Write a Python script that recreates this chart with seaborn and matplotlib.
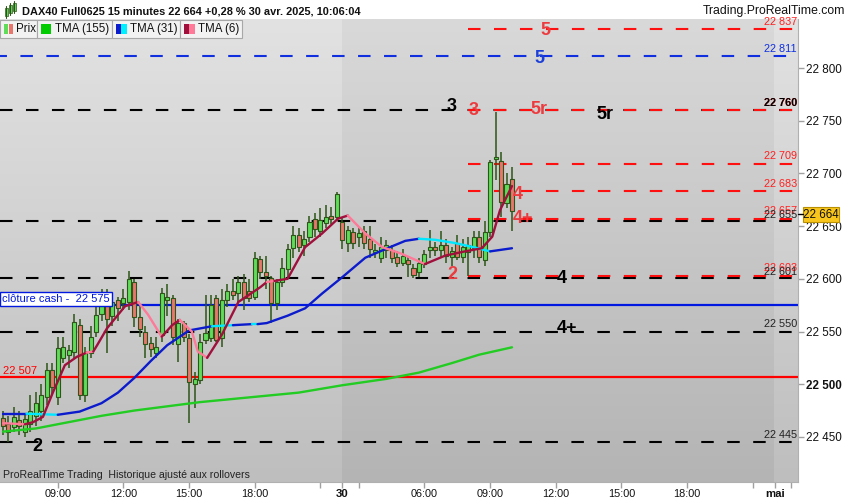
import numpy as np
import matplotlib
matplotlib.use("Agg")
import matplotlib.pyplot as plt
import seaborn as sns
from matplotlib.patches import Rectangle
from matplotlib.colors import LinearSegmentedColormap

sns.set_style("white")
plt.rcParams['font.family'] = ['Liberation Sans', 'DejaVu Sans']
plt.rcParams['lines.scale_dashes'] = False

# ---------------- data ----------------
opens = [22468, 22462, 22459, 22466, 22455, 22462, 22470, 22475, 22488, 22513,
         22488, 22525, 22528, 22531, 22556, 22490, 22530, 22550, 22567, 22580,
         22565, 22580, 22577, 22578, 22597, 22564, 22550, 22539, 22530, 22547,
         22580, 22582, 22538, 22558, 22544, 22500, 22504, 22542, 22544, 22582,
         22544, 22580, 22588, 22587, 22597, 22588, 22583, 22619, 22606, 22601,
         22577, 22597, 22609, 22629, 22642, 22632, 22640, 22657, 22645, 22653,
         22660, 22659,
         22654, 22634, 22644, 22640, 22645, 22638, 22625, 22620, 22627, 22627,
         22621, 22615, 22618, 22610, 22606, 22614, 22627, 22630, 22627, 22632,
         22621, 22634, 22621, 22625, 22629, 22640, 22618, 22644, 22714, 22712,
         22672, 22695]
highs = [22475, 22470, 22478, 22475, 22472, 22490, 22493, 22500, 22520, 22520,
         22545, 22545, 22537, 22567, 22562, 22535, 22555, 22578, 22590, 22590,
         22585, 22583, 22590, 22607, 22600, 22575, 22555, 22545, 22545, 22591,
         22595, 22585, 22562, 22560, 22548, 22512, 22548, 22585, 22585, 22585,
         22590, 22595, 22600, 22603, 22605, 22600, 22625, 22622, 22622, 22603,
         22600, 22620, 22633, 22650, 22648, 22645, 22660, 22662, 22667, 22670,
         22668, 22682,
         22659, 22650, 22648, 22648, 22650, 22650, 22633, 22640, 22637, 22632,
         22626, 22628, 22622, 22614, 22620, 22627, 22646, 22635, 22645, 22638,
         22630, 22642, 22638, 22640, 22645, 22645, 22655, 22713, 22758, 22720,
         22700, 22706]
lows = [22452, 22445, 22455, 22452, 22450, 22455, 22460, 22465, 22480, 22490,
        22480, 22520, 22515, 22525, 22485, 22483, 22525, 22545, 22560, 22530,
        22555, 22560, 22570, 22570, 22554, 22545, 22525, 22526, 22525, 22540,
        22565, 22537, 22521, 22540, 22463, 22477, 22500, 22538, 22540, 22540,
        22535, 22573, 22580, 22577, 22570, 22578, 22580, 22600, 22590, 22558,
        22570, 22592, 22602, 22620, 22625, 22622, 22635, 22640, 22640, 22648,
        22652, 22655,
        22628, 22625, 22628, 22630, 22628, 22620, 22620, 22615, 22620, 22615,
        22611, 22612, 22602, 22601, 22602, 22610, 22620, 22622, 22620, 22615,
        22612, 22618, 22615, 22603, 22620, 22615, 22612, 22640, 22694, 22659,
        22667, 22645]
closes = [22460, 22455, 22469, 22460, 22467, 22475, 22482, 22490, 22513, 22497,
          22534, 22535, 22532, 22559, 22490, 22530, 22545, 22566, 22580, 22562,
          22578, 22572, 22582, 22600, 22564, 22552, 22538, 22533, 22535, 22587,
          22583, 22545, 22558, 22545, 22502, 22505, 22540, 22549, 22575, 22542,
          22580, 22588, 22585, 22597, 22582, 22582, 22620, 22606, 22603, 22577,
          22597, 22610, 22628, 22642, 22630, 22638, 22654, 22647, 22656, 22659,
          22657, 22680,
          22637, 22646, 22634, 22643, 22634, 22628, 22627, 22630, 22632, 22620,
          22615, 22622, 22614, 22604, 22615, 22624, 22630, 22627, 22632, 22622,
          22626, 22621, 22630, 22632, 22640, 22621, 22644, 22711, 22715, 22673,
          22690, 22664]

# moving averages (bar index, value, direction)
tma155_x = [0, 6, 12, 18, 24, 30, 36, 42, 48, 54, 62, 70, 76, 82, 87, 93]
tma155_y = [22455, 22458, 22464, 22470, 22475, 22479, 22483, 22486, 22489, 22492,
            22499, 22505, 22511, 22520, 22528, 22535]

tma31_x = [0, 4.3, 10, 14, 18, 21, 24, 27, 30, 34, 38.2, 42, 45.5, 46.5, 48.2, 52,
           55.2, 58.3, 62.1, 66.2, 70.7, 73.5, 76, 79, 82.5, 86, 89, 93]
tma31_y = [22472, 22472, 22471, 22474, 22482, 22492, 22506, 22522, 22537, 22551,
           22555, 22556, 22557, 22557, 22558, 22565, 22572, 22586, 22602, 22620,
           22630, 22636, 22638, 22637, 22634, 22630, 22626, 22629]
tma31_dir = ['up', 'flat', 'up', 'up', 'up', 'up', 'up', 'up', 'up', 'up',
             'flat', 'up', 'flat', 'up', 'up', 'up', 'up', 'up', 'up', 'up',
             'up', 'up', 'flat', 'flat', 'flat', 'flat', 'up']

tma6_x = [0, 4, 5.5, 7.3, 9.1, 11.3, 13.5, 15.3, 16.5, 17.2, 19, 22.3, 24.7, 26.5,
          29, 30.9, 32.3, 34.5, 35.6, 37.3, 40, 43, 47, 48.2, 49.6, 52, 55.2, 58.3,
          61.2, 63, 66.2, 69.3, 72.7, 77.1, 80.8, 84.4, 87.5, 89.4, 90.8, 93]
tma6_y = [22463, 22462, 22464, 22469, 22492, 22518, 22526, 22530, 22531, 22537,
          22553, 22574, 22578, 22566, 22545, 22556, 22561, 22550, 22531, 22525,
          22547, 22578, 22592, 22597, 22598, 22600, 22630, 22643, 22657, 22660,
          22643, 22630, 22624, 22614, 22622, 22626, 22629, 22640, 22665, 22688]
tma6_dir = ['dn', 'up', 'up', 'up', 'up', 'up', 'up', 'dn', 'up', 'up',
            'up', 'up', 'dn', 'dn', 'up', 'up', 'dn', 'dn', 'dn', 'up',
            'up', 'up', 'up', 'dn', 'up', 'up', 'up', 'up', 'up', 'dn',
            'dn', 'dn', 'dn', 'up', 'up', 'up', 'up', 'up', 'up']

# price levels
black_levels = [22760, 22655, 22601, 22550, 22445]
red_levels = [22837, 22760, 22709, 22683, 22657, 22603]
blue_dashed_level = 22811
cash_close = 22575
red_solid_level = 22507
last_price = 22664

ytick_vals = [22450, 22500, 22550, 22600, 22650, 22700, 22750, 22800]
ytick_labels = ['22 450', '22 500', '22 550', '22 600', '22 650', '22 700', '22 750', '22 800']
xtick_pos = [10, 22, 34, 46, 62, 77, 89, 101, 113, 125, 141]
xtick_labels = ['09:00', '12:00', '15:00', '18:00', '30', '06:00', '09:00', '12:00', '15:00', '18:00', 'mai']
xminor_pos = [58, 65, 137, 144]

# ---------------- geometry helpers ----------------
W, H = 850, 500
PX0, PXS = 3.0, 5.473          # pixel of bar 0, pixels per bar
PY0, PYS = 68.0, 1.054         # pixel of 22800, pixels per point
AX_L, AX_R, AX_T, AX_B = 0, 798, 19, 482

def ix(px):
    return (px - PX0) / PXS

def pr(py):
    return 22800 - (py - PY0) / PYS

XMIN, XMAX = ix(AX_L), ix(AX_R)
YMAX, YMIN = pr(AX_T), pr(AX_B)

fig = plt.figure(figsize=(W / 100, H / 100), dpi=100)
fig.patch.set_facecolor('white')
ax = fig.add_axes([AX_L / W, 1 - AX_B / H, (AX_R - AX_L) / W, (AX_B - AX_T) / H])

# background gradients
def grad(x0, x1, top, bot):
    cmap = LinearSegmentedColormap.from_list('g', [bot, top])
    ax.imshow(np.linspace(0, 1, 256).reshape(-1, 1), cmap=cmap,
              extent=(x0, x1, YMIN, YMAX), origin='lower', aspect='auto',
              zorder=0, interpolation='bilinear')

grad(XMIN, 61.9, '#e2e2e2', '#bebebe')
grad(61.9, 140.9, '#d9d9d9', '#b4b4b4')
grad(140.9, XMAX, '#e2e2e2', '#bebebe')

# horizontal levels
DASH = (0, (9, 9.7))
for lv in black_levels:
    ax.axhline(lv, color='black', lw=1.5, ls=DASH, zorder=2)
ax.axhline(blue_dashed_level, color='#1030e0', lw=1.5, ls=(4, (9, 9.7)), zorder=2)
for lv in red_levels:
    ax.hlines(lv, ix(468), ix(793), color='#ff1010', lw=1.5, ls=(0, (9, 9.7)), zorder=2.1)
ax.axhline(cash_close, color='#0018e0', lw=1.6, zorder=2)
ax.axhline(red_solid_level, color='#ff0000', lw=1.6, zorder=2)

# candles
WICK = '#2d5517'
for i, (o, h, l, c) in enumerate(zip(opens, highs, lows, closes)):
    ax.vlines(i, l, h, color=WICK, lw=1.1, zorder=3)
    up = c >= o
    lo, hi = min(o, c), max(o, c)
    if hi - lo < 1.2:
        hi = lo + 1.2
    ax.add_patch(Rectangle((i - 0.37, lo), 0.74, hi - lo,
                           facecolor='#5fdc5a' if up else '#e8766c',
                           edgecolor=WICK, lw=0.8, zorder=4))

# moving averages
def draw_ma(xs, ys, dirs, cmap_dir, lw):
    n = len(xs)
    start = 0
    for i in range(1, n):
        if i == n - 1 or dirs[i] != dirs[start]:
            sns.lineplot(x=xs[start:i + 1], y=ys[start:i + 1], color=cmap_dir[dirs[start]],
                         lw=lw, ax=ax, estimator=None, sort=False, zorder=5)
            start = i

sns.lineplot(x=tma155_x, y=tma155_y, color='#22cc22', lw=1.7, ax=ax, estimator=None, zorder=5)
draw_ma(tma31_x, tma31_y, tma31_dir, {'up': '#0c1ccc', 'flat': '#00e8ff'}, 1.7)
draw_ma(tma6_x, tma6_y, tma6_dir, {'up': '#a0103c', 'dn': '#ff7a98'}, 1.7)

# level labels on right inside chart
def lvl_label(txt, lv, col, bold=False, dy=2.5):
    ax.text(ix(797), lv + dy / PYS, txt, color=col, fontsize=7.8, ha='right', va='bottom',
            fontweight='bold' if bold else 'normal', zorder=6)

lvl_label('22 837', 22837, '#ff2020')
lvl_label('22 811', 22811, '#1030e0')
lvl_label('22 760', 22760, '#ff2020', bold=True)
lvl_label('22 760', 22760, 'black', bold=True)
lvl_label('22 709', 22709, '#ff2020')
lvl_label('22 683', 22683, '#ff2020')
lvl_label('22 657', 22657, '#ff2020')
lvl_label('22 655', 22655, '#222222', dy=0.5)
lvl_label('22 603', 22603, '#ff2020')
lvl_label('22 601', 22601, '#222222', dy=0.5)
lvl_label('22 550', 22550, '#222222')
lvl_label('22 445', 22445, '#222222')

# big annotation labels (pixel positions)
RED = '#ec3b3f'
annots = [('3', 452, 106, 'black'), ('3', 474, 110, RED), ('5r', 539, 109, RED),
          ('5r', 605, 114, 'black'), ('5', 545, 30, RED), ('5', 539, 58, '#1c3fd8'),
          ('4', 518, 194, RED), ('4+', 523, 218, RED), ('2', 452, 274, RED),
          ('4', 562, 278, 'black'), ('4+', 567, 328, 'black'), ('2', 37, 446, 'black')]
for t, x, y, c in annots:
    ax.text(ix(x), pr(y), t, color=c, fontsize=13, fontweight='bold', ha='center',
            va='center', zorder=7)

# left labels
ax.text(ix(3), pr(371), '22 507', color='#ff0000', fontsize=8, ha='left', va='center', zorder=7)
ax.text(ix(2), pr(299), 'clôture cash -  22 575', color='#0018e0', fontsize=8, ha='left',
        va='center', zorder=7,
        bbox=dict(boxstyle='square,pad=0.18', fc='white', ec='#0018e0', lw=1))
ax.text(ix(3), pr(475), 'ProRealTime Trading  Historique ajusté aux rollovers',
        color='#222222', fontsize=7.6, ha='left', va='center', zorder=7)

ax.set_xlim(XMIN, XMAX)
ax.set_ylim(YMIN, YMAX)

# axes styling
for s in ['top', 'left']:
    ax.spines[s].set_visible(False)
ax.spines['right'].set_color('#b0b0b0')
ax.spines['bottom'].set_color('#b0b0b0')
ax.yaxis.tick_right()
ax.set_yticks(ytick_vals)
ax.set_yticklabels(ytick_labels)
ax.tick_params(axis='y', which='major', length=4, width=1, color='#a0a0a0', pad=2,
               labelsize=8.4, labelcolor='#111111', direction='out', right=True, left=False)
for lab in ax.get_yticklabels():
    if lab.get_text() == '22 500':
        lab.set_fontweight('bold')
ax.set_xticks(xtick_pos)
ax.set_xticklabels(xtick_labels)
ax.set_xticks(xminor_pos, minor=True)
ax.tick_params(axis='x', which='both', length=4, width=1, color='#a0a0a0', pad=1,
               labelsize=7.8, labelcolor='#111111', direction='out', bottom=True)
for lab in ax.get_xticklabels():
    if lab.get_text() in ('30', 'mai'):
        lab.set_fontweight('bold')
        lab.set_fontsize(8.2)
ax.set_xlabel('')
ax.set_ylabel('')
ax.grid(False)

# current price badge
def fpx(x, y):
    return x / W, 1 - y / H

bx, by = fpx(803, 222)
fig.add_artist(Rectangle((bx, by), 36 / W, 15 / H, transform=fig.transFigure,
                         fc='#f8c51c', ec='#b89000', lw=0.8))
fig.add_artist(plt.Line2D([798 / W, 803 / W], [1 - 214 / H] * 2, transform=fig.transFigure,
                          color='black', lw=1))
fig.text(821 / W, 1 - 214.5 / H, '22 664', fontsize=8.4, ha='center', va='center', color='#111111')

# title bar
fig.text(22 / W, 1 - 11 / H, 'DAX40 Full0625 15 minutes 22 664 +0,28 % 30 avr. 2025, 10:06:04',
         fontsize=7.9, fontweight='bold', ha='left', va='center', color='#111111')
fig.text(845 / W, 1 - 11 / H, 'Trading.ProRealTime.com', fontsize=8.8, ha='right', va='center',
         color='#111111')
# small candle icon
for (x, y0, y1) in [(5, 8, 16), (9, 5, 13), (13, 3, 11)]:
    fig.add_artist(plt.Line2D([(x + 1) / W] * 2, [1 - (y1 + 2) / H, 1 - (y0 - 2) / H],
                              transform=fig.transFigure, color='#2d5517', lw=0.8))
    fig.add_artist(Rectangle(fpx(x, y1), 3 / W, (y1 - y0) / H, transform=fig.transFigure,
                             fc='#5fdc5a', ec='#2d5517', lw=0.5))

# legend row
boxes = [(0, 37), (37, 112), (112, 180), (180, 242)]
for x0, x1 in boxes:
    fig.add_artist(Rectangle(fpx(x0, 38), (x1 - x0) / W, 18 / H, transform=fig.transFigure,
                             fc='#f2f2f2', ec='#a8a8a8', lw=0.8))
swatches = [(4, 8.5, '#5fdc5a'), (8.5, 13, '#e8766c'), (41, 51, '#00cc00'),
            (116, 121, '#0c1ccc'), (121, 127, '#00f0ff'), (184, 189, '#a0103c'),
            (189, 195, '#ff7a98')]
for x0, x1, c in swatches:
    fig.add_artist(Rectangle(fpx(x0, 34), (x1 - x0) / W, 10 / H, transform=fig.transFigure,
                             fc=c, ec='none'))
for x, t in [(16, 'Prix'), (55, 'TMA (155)'), (130, 'TMA (31)'), (198, 'TMA (6)')]:
    fig.text(x / W, 1 - 29.5 / H, t, fontsize=8.3, ha='left', va='center', color='#111111')

fig.savefig('out.png', dpi=100, facecolor='white')
